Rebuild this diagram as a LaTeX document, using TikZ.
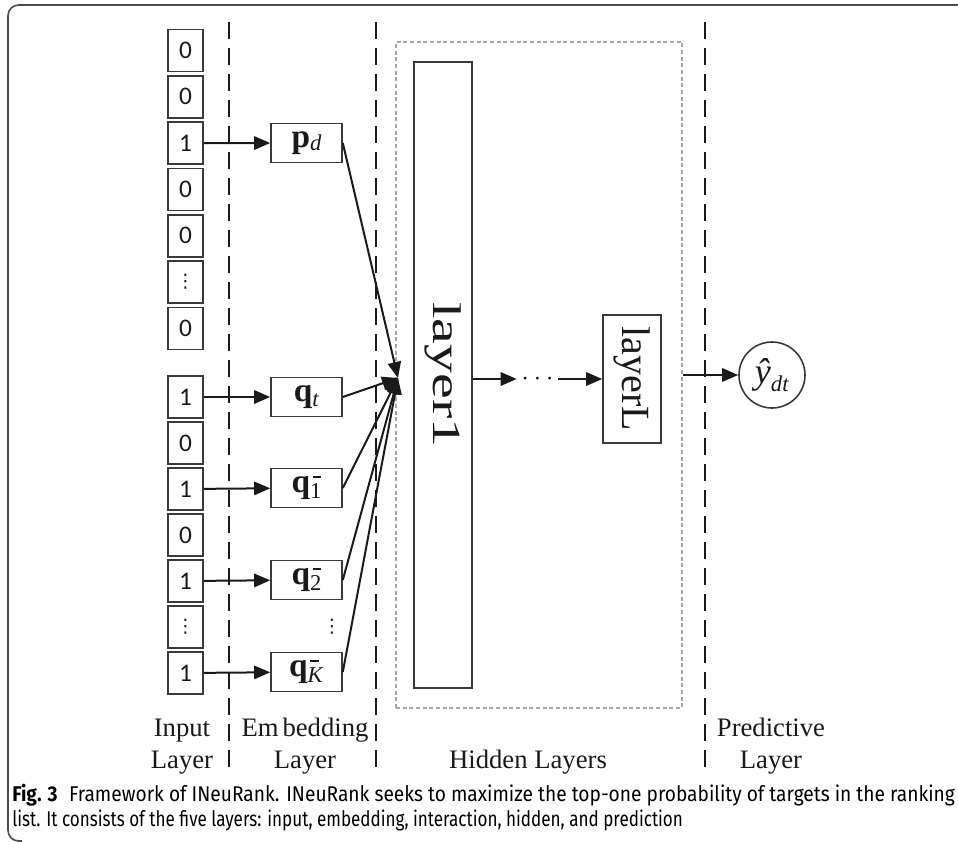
\documentclass[tikz,border=0pt]{standalone}
\usepackage{fontspec}
\setmainfont{Liberation Serif}
\newfontfamily\numfont{Carlito}
\newfontfamily\capfont{Fira Sans}
\newfontfamily\symfont{DejaVu Sans}
\usetikzlibrary{arrows.meta}
\definecolor{ink}{HTML}{1A1A1A}
\definecolor{boxline}{HTML}{3A3A3A}
\newsavebox\capboxA
\newsavebox\capboxB
\newcommand\mybar{\rlap{\hspace{2pt}\raisebox{11.5pt}{\rule{6.5pt}{1.1pt}}}}
\newcommand\subsz{\fontsize{17pt}{18pt}\selectfont}
\begin{document}
\sbox\capboxA{\capfont\fontsize{16pt}{18pt}\selectfont\textbf{Fig. 3}\hspace{0.6em}Framework of INeuRank. INeuRank seeks to maximize the top-one probability of targets in the ranking}%
\sbox\capboxB{\capfont\fontsize{16pt}{18pt}\selectfont list. It consists of the five layers: input, embedding, interaction, hidden, and prediction}%
\pgfmathsetmacro\capscale{707/\wd\capboxA}%
\pgfmathsetmacro\capscaleB{503/\wd\capboxB}%
\begin{tikzpicture}[x=0.75pt,y=-0.75pt,
  inbox/.style={draw=boxline, line width=1.2pt, minimum width=26.25pt, minimum height=31.5pt, inner sep=0pt, font=\numfont\fontsize{19pt}{20pt}\selectfont, text=ink},
  embbox/.style={draw=boxline, line width=1.2pt, minimum width=53.25pt, minimum height=29.25pt, inner sep=0pt, font=\fontsize{25pt}{26pt}\selectfont, text=ink},
  layerbox/.style={draw=boxline, line width=1.2pt, minimum width=43.5pt, inner sep=0pt, font=\fontsize{30pt}{32pt}\selectfont, text=ink},
  sep/.style={draw=ink, line width=2.2pt, dash pattern=on 12.75pt off 6.75pt},
  conn/.style={draw=ink, line width=1.5pt, -{Triangle[length=12pt,width=10pt]}},
  lab/.style={anchor=base, inner sep=0pt, font=\fontsize{20pt}{24pt}\selectfont, text=ink}
]
\useasboundingbox (0,0) rectangle (958,842);
% frame
\draw[gray!60!black, line width=1.2pt, rounded corners=8pt] (958,5) -- (8,5) -- (8,841) -- (22,841);

% separators
\draw[sep] (229,22) -- (229,775);
\draw[sep] (376,22) -- (376,775);
\draw[sep] (705,22) -- (705,775);

% hidden box
\node[draw=gray!70, line width=1pt, densely dashed, minimum width=214.5pt, minimum height=499.5pt, inner sep=0pt] (hid) at (539,375) {};

% input boxes
\node[inbox] (i1) at (185.5,50.5) {0};
\node[inbox] (i2) at (185.5,96.8) {0};
\node[inbox] (i3) at (185.5,143.1) {1};
\node[inbox] (i4) at (185.5,189.4) {0};
\node[inbox] (i5) at (185.5,235.7) {0};
\node[inbox, font=\symfont\fontsize{14pt}{15pt}\selectfont] (i6) at (185.5,282) {⋮};
\node[inbox] (i7) at (185.5,328.3) {0};
\node[inbox] (j1) at (185.5,397) {1};
\node[inbox] (j2) at (185.5,443) {0};
\node[inbox] (j3) at (185.5,489) {1};
\node[inbox] (j4) at (185.5,535) {0};
\node[inbox] (j5) at (185.5,581) {1};
\node[inbox, font=\symfont\fontsize{14pt}{15pt}\selectfont] (j6) at (185.5,627) {⋮};
\node[inbox] (j7) at (185.5,673) {1};

% embedding boxes
\node[embbox] (pd) at (306.5,143) {\textbf{p}\raisebox{-0.2ex}{\subsz\textit{d}}};
\node[embbox] (qt) at (306.5,397) {\textbf{q}\raisebox{-0.3ex}{\subsz\textit{t}}};
\node[embbox] (q1) at (306.5,488) {\textbf{q}\mybar\raisebox{-0.35ex}{\subsz 1}};
\node[embbox] (q2) at (306.5,580) {\textbf{q}\mybar\raisebox{-0.35ex}{\subsz 2}};
\node[inner sep=0pt, text=ink, font=\symfont\fontsize{14pt}{15pt}\selectfont] (qdots) at (332,627) {⋮};
\node[embbox] (qK) at (306.5,672) {\textbf{q}\mybar\raisebox{-0.35ex}{\subsz\textit{K}}};

% input -> embedding
\draw[conn] (i3) -- (pd);
\draw[conn] (j1) -- (qt);
\draw[conn] (j3) -- (q1);
\draw[conn] (j5) -- (q2);
\draw[conn] (j7) -- (qK);

% hidden layers
\node[layerbox, minimum height=469.5pt] (l1) at (443,375) {\rotatebox{-90}{\scalebox{1.45}[1]{layer1}}};
\node[layerbox, minimum height=96pt] (lL) at (632,379) {\rotatebox{-90}{layerL}};
\node[inner sep=0pt, minimum width=30.75pt, text=ink, font=\fontsize{20pt}{22pt}\selectfont] (hdots) at (537.5,379) {$\cdots$};

% convergence
\coordinate (cv) at (398,378);
\draw[conn] (pd.east) -- (cv);
\draw[conn] (qt.east) -- (cv);
\draw[conn] (q1.east) -- (cv);
\draw[conn] (q2.east) -- (cv);
\draw[conn] (qK.east) -- (cv);

\draw[conn] (l1.east |- hdots) -- (hdots.west);
\draw[conn] (hdots.east) -- (lL.west |- hdots);

% prediction
\node[draw=boxline, line width=1.2pt, circle, minimum size=49.5pt, inner sep=0pt, text=ink, font=\fontsize{27pt}{28pt}\selectfont] (yhat) at (772,375) {\textit{ŷ}\raisebox{-0.45ex}{\subsz\textit{dt}}};
\draw[conn] (hid.east |- yhat.west) -- (yhat.west);

% labels
\node[lab] (inA) at (182,736) {Input};
\node[lab] (inB) at (182,768) {Layer};
\node[lab] (emA) at (305,736) {Em\hspace{3pt}bedding};
\node[lab] (emB) at (305,768) {Layer};
\node[lab] (hiA) at (528,768) {Hidden Layers};
\node[lab] (prA) at (771,736) {Predictive};
\node[lab] (prB) at (771,768) {Layer};

% caption
\node[anchor=base west, inner sep=0pt, text=ink] (capA) at (12,801) {\scalebox{\capscale}[1]{\usebox\capboxA}};
\node[anchor=base west, inner sep=0pt, text=ink] (capB) at (12,826) {\scalebox{\capscaleB}[1]{\usebox\capboxB}};
\end{tikzpicture}
\end{document}
